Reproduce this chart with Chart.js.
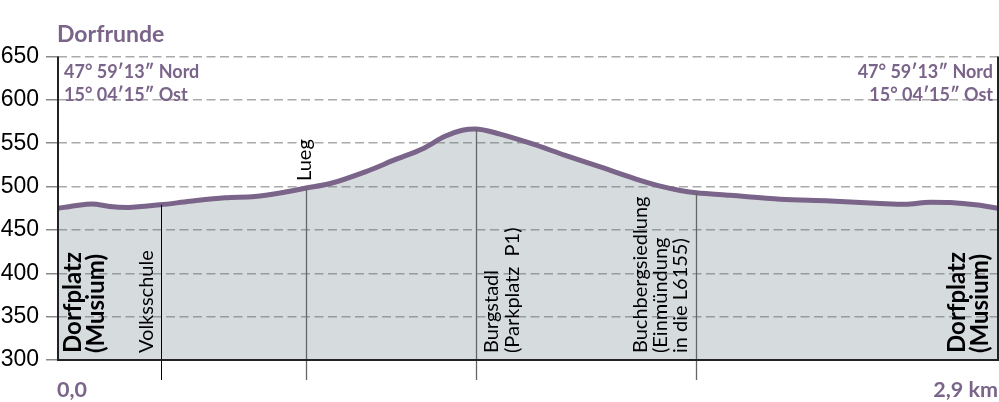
<!DOCTYPE html>
<html lang="de">
<head>
<meta charset="utf-8">
<title>Dorfrunde</title>
<script src="https://cdn.jsdelivr.net/npm/chart.js@4"></script>
<style>
    html, body { margin: 0; padding: 0; background: #fff; }
    canvas { display: block; }
</style>
</head>
<body>
<canvas id="profil" width="999" height="402"></canvas>
<script>
// Höhenprofil Dorfrunde
const distanzKm = [0, 0.052, 0.105, 0.16, 0.216, 0.315, 0.407, 0.515, 0.608, 0.685, 0.762, 0.84, 0.948, 1.04, 1.127, 1.194, 1.247, 1.287, 1.364, 1.457, 1.565, 1.673, 1.781, 1.858, 1.92, 1.969, 2.074, 2.228, 2.383, 2.537, 2.614, 2.691, 2.753, 2.83, 2.9];
const hoehe = [475, 478, 480, 477, 476, 479, 483, 487, 488.5, 492.5, 498, 503.5, 517, 531, 544, 558, 565, 566.5, 560.5, 550, 536, 522.6, 509, 500.5, 495.5, 493, 490, 485.5, 483.5, 480.5, 479.5, 482, 481.5, 479, 475];
const yTicks = [300, 350, 400, 450, 500, 550, 600, 650];
const ortKm = [0.318, 0.765, 1.29, 1.969];
const ortHoehe = [479, 498, 566, 493];

const LILA = '#7a6489';
const FONT = 'Lato, "Noto Sans", sans-serif';

function text(ctx, str, x, y, font, color, align) {
    ctx.font = font;
    ctx.fillStyle = color;
    ctx.textAlign = align || 'left';
    ctx.textBaseline = 'alphabetic';
    ctx.fillText(str, x, y);
}

function textHoch(ctx, str, x, y, font) {
    ctx.save();
    ctx.translate(x, y);
    ctx.rotate(-Math.PI / 2);
    text(ctx, str, 0, 0, font, '#000');
    ctx.restore();
}

const beschriftung = {
    id: 'beschriftung',
    afterDatasetsDraw(chart) {
        const { ctx, chartArea: a, scales: { x, y } } = chart;
        ctx.save();

        // Stützen der Orte
        ortKm.forEach((km, i) => {
            const px = Math.round(x.getPixelForValue(km)) + 0.5;
            ctx.beginPath();
            ctx.moveTo(px, y.getPixelForValue(ortHoehe[i]));
            ctx.lineTo(px, a.bottom + 20);
            ctx.strokeStyle = i === 0 ? '#000' : '#666';
            ctx.lineWidth = i === 0 ? 1 : 1.3;
            ctx.stroke();
        });

        // Rahmen
        ctx.strokeStyle = '#222';
        ctx.lineWidth = 2;
        ctx.beginPath();
        ctx.moveTo(a.left, a.top);
        ctx.lineTo(a.left, a.bottom);
        ctx.lineTo(a.right, a.bottom);
        ctx.lineTo(a.right, a.top);
        ctx.stroke();

        text(ctx, 'Dorfrunde', 57, 42, '700 23px ' + FONT, LILA);
        const koord = '700 18px ' + FONT;
        text(ctx, '47° 59′13″ Nord', 64, 78, koord, LILA);
        text(ctx, '15° 04′15″ Ost', 64, 101, koord, LILA);
        text(ctx, '47° 59′13″ Nord', 993, 78, koord, LILA, 'right');
        text(ctx, '15° 04′15″ Ost', 993, 101, koord, LILA, 'right');
        text(ctx, '0,0', 57, 397, '700 21.5px ' + FONT, LILA);
        text(ctx, '2,9 km', 998, 397, '700 21.5px ' + FONT, LILA, 'right');

        const fett = '700 24px ' + FONT;
        const normal = '400 20px ' + FONT;
        textHoch(ctx, 'Dorfplatz', 81, 353, fett);
        textHoch(ctx, '(Musium)', 104, 353, fett);
        textHoch(ctx, 'Dorfplatz', 965, 353, fett);
        textHoch(ctx, '(Musium)', 988, 353, fett);
        textHoch(ctx, 'Volksschule', 153, 353, normal);
        textHoch(ctx, 'Lueg', 311, 181, normal);
        textHoch(ctx, 'Burgstadl', 498, 353, normal);
        textHoch(ctx, '(Parkplatz  P1)', 519, 353, normal);
        textHoch(ctx, 'Buchbergsiedlung', 647, 353, normal);
        textHoch(ctx, '(Einmündung', 667, 353, normal);
        textHoch(ctx, 'in die L6155)', 687, 353, normal);
        ctx.restore();
    }
};

new Chart(document.getElementById('profil'), {
    type: 'line',
    data: {
        datasets: [{
            data: distanzKm.map((km, i) => ({ x: km, y: hoehe[i] })),
            borderColor: LILA,
            borderWidth: 5,
            backgroundColor: 'rgba(91,111,123,0.25)',
            fill: 'start',
            pointRadius: 0,
            cubicInterpolationMode: 'monotone',
            clip: false
        }]
    },
    options: {
        responsive: false,
        animation: false,
        layout: { padding: { top: 56.5, right: 1, bottom: 42, left: 0 } },
        plugins: { legend: { display: false }, tooltip: { enabled: false } },
        scales: {
            x: {
                type: 'linear',
                min: 0,
                max: 2.9,
                display: false
            },
            y: {
                min: 300,
                max: 650,
                afterFit(scale) { scale.width = 58; },
                afterBuildTicks(scale) { scale.ticks = yTicks.map(v => ({ value: v })); },
                border: { display: false, dash: [9, 4.5] },
                grid: {
                    color: '#aaa',
                    lineWidth: 1.5,
                    tickLength: 12,
                    tickColor: '#888',
                    tickWidth: 1.5,
                    tickBorderDash: []
                },
                ticks: {
                    color: '#000',
                    padding: 7,
                    font: { family: '"Liberation Sans", sans-serif', size: 23 }
                }
            }
        },
        elements: { line: { borderJoinStyle: 'round', borderCapStyle: 'butt' } }
    },
    plugins: [beschriftung]
});
</script>
</body>
</html>
